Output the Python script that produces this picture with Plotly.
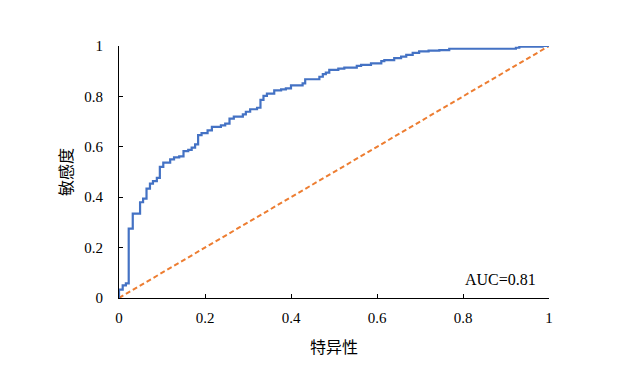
import plotly.graph_objects as go

# ROC curve points (1 - specificity, sensitivity), step curve
fpr = [0.0, 0.0, 0.0086, 0.016, 0.0226, 0.032, 0.049, 0.056, 0.064, 0.072, 0.079, 0.088,
       0.095, 0.103, 0.119, 0.128, 0.14, 0.15, 0.161, 0.169, 0.177, 0.184, 0.192, 0.206,
       0.216, 0.237, 0.247, 0.257, 0.267, 0.288, 0.295, 0.305, 0.321, 0.329, 0.336, 0.344,
       0.361, 0.377, 0.388, 0.4, 0.427, 0.433, 0.466, 0.474, 0.481, 0.489, 0.51, 0.524,
       0.553, 0.563, 0.586, 0.61, 0.617, 0.64, 0.656, 0.668, 0.683, 0.698, 0.72, 0.745,
       0.768, 0.923, 0.931, 0.985, 1.0]
tpr = [0.0, 0.033, 0.05, 0.058, 0.275, 0.335, 0.38, 0.394, 0.434, 0.454, 0.464, 0.477,
       0.52, 0.537, 0.55, 0.558, 0.562, 0.583, 0.588, 0.597, 0.61, 0.646, 0.654, 0.665,
       0.679, 0.685, 0.692, 0.712, 0.72, 0.729, 0.739, 0.749, 0.755, 0.786, 0.802, 0.811,
       0.824, 0.828, 0.832, 0.844, 0.852, 0.868, 0.878, 0.888, 0.894, 0.905, 0.91, 0.914,
       0.921, 0.925, 0.931, 0.94, 0.944, 0.952, 0.958, 0.965, 0.973, 0.979, 0.982, 0.984,
       0.989, 0.993, 0.997, 1.0, 1.0]
ref_x = [0, 1]
ref_y = [0, 1]
tick_vals = [0, 0.2, 0.4, 0.6, 0.8, 1]
tick_text = ["0", "0.2", "0.4", "0.6", "0.8", "1"]
auc_label = "AUC=0.81"
x_title = "特异性"
y_title = "敏感度"

FONT = "Liberation Serif, Noto Sans CJK SC, serif"

fig = go.Figure()
fig.add_trace(go.Scatter(x=ref_x, y=ref_y, mode="lines",
                         line=dict(color="#ED7D31", width=2, dash="5px,3px"),
                         cliponaxis=False, showlegend=False, hoverinfo="skip"))
fig.add_trace(go.Scatter(x=fpr, y=tpr, mode="lines", line_shape="hv",
                         line=dict(color="#4472C4", width=2.2),
                         cliponaxis=False, showlegend=False))

fig.add_annotation(x=0.975, y=0.073, xref="x", yref="y", text=auc_label,
                   showarrow=False, xanchor="right", yanchor="middle",
                   font=dict(family=FONT, size=16, color="#000000"))

axis_common = dict(range=[0, 1], tickvals=tick_vals, ticktext=tick_text,
                   showgrid=False, zeroline=False, showline=True,
                   linecolor="#000000", linewidth=1, ticks="inside",
                   ticklen=4, tickcolor="#000000", tickwidth=1,
                   tickfont=dict(family=FONT, size=15, color="#000000"))

fig.update_xaxes(**axis_common, ticklabelstandoff=6,
                 title=dict(text=x_title, font=dict(family=FONT, size=16, color="#000000"),
                            standoff=16))
fig.update_yaxes(**axis_common, ticklabelstandoff=12,
                 title=dict(text=y_title, font=dict(family=FONT, size=16, color="#000000"),
                            standoff=7))

fig.update_layout(width=622, height=373,
                  margin=dict(l=111, r=81, t=38, b=83),
                  paper_bgcolor="white", plot_bgcolor="white")

fig.write_html("out.html")
